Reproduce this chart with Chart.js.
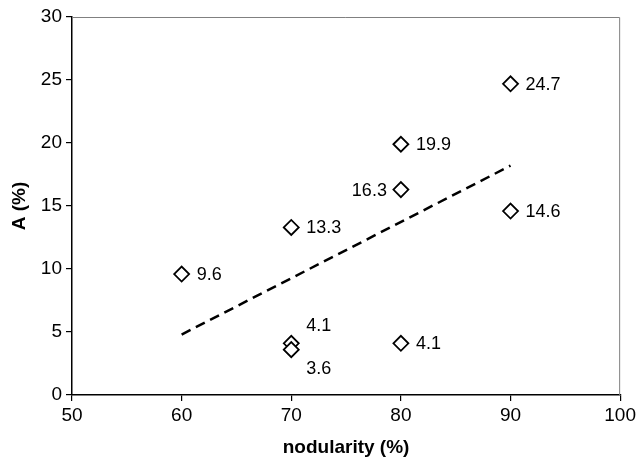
<!DOCTYPE html>
<html>
<head>
<meta charset="utf-8">
<script src="https://cdn.jsdelivr.net/npm/chart.js@4.4.1/dist/chart.umd.min.js"></script>
<style>
  html, body { margin: 0; padding: 0; background: #fff; }
  #wrap { width: 639px; height: 462px; }
</style>
</head>
<body>
<div id="wrap"><canvas id="scatterChart"></canvas></div>
<script>
// nodularity (%) and A (%)
const nodularity = [60, 70, 70, 70, 80, 80, 80, 90, 90];
const aValues = [9.6, 13.3, 4.1, 3.6, 19.9, 16.3, 4.1, 24.7, 14.6];
const pointLabels = ['9.6', '13.3', '4.1', '3.6', '19.9', '16.3', '4.1', '24.7', '14.6'];

// dashed trend line ends
const trendX = [60, 90];
const trendY = [4.8, 18.2];

const xTicks = [50, 60, 70, 80, 90, 100];
const yTicks = [0, 5, 10, 15, 20, 25, 30];

// where each label sits relative to its point
const labelSpots = ['right', 'right', 'upRight', 'downRight', 'right', 'left', 'right', 'right', 'right'];

const fontFamily = '"Liberation Sans", Arial, sans-serif';

const frameBox = {
    id: 'frameBox',
    beforeDatasetsDraw(chart) {
        const { ctx, chartArea: a } = chart;
        ctx.save();
        ctx.strokeStyle = '#808080';
        ctx.lineWidth = 1;
        ctx.beginPath();
        ctx.moveTo(a.left, a.top + 0.5);
        ctx.lineTo(a.right - 0.5, a.top + 0.5);
        ctx.lineTo(a.right - 0.5, a.bottom);
        ctx.stroke();
        ctx.restore();
    }
};

const valueLabels = {
    id: 'valueLabels',
    afterDatasetsDraw(chart) {
        const { ctx } = chart;
        const meta = chart.getDatasetMeta(0);
        ctx.save();
        ctx.fillStyle = '#000';
        ctx.font = '18px ' + fontFamily;
        ctx.textBaseline = 'middle';
        meta.data.forEach((pt, i) => {
            let x = pt.x, y = pt.y;
            const spot = labelSpots[i];
            ctx.textAlign = 'left';
            if (spot === 'right') { x += 15; }
            else if (spot === 'left') { x -= 14; ctx.textAlign = 'right'; }
            else if (spot === 'upRight') { x += 15; y -= 18; }
            else if (spot === 'downRight') { x += 15; y += 18; }
            ctx.fillText(pointLabels[i], x, y + 1);
        });
        ctx.restore();
    }
};

const ctx = document.getElementById('scatterChart').getContext('2d');

new Chart(ctx, {
    type: 'scatter',
    data: {
        datasets: [{
            label: 'A',
            data: nodularity.map((x, i) => ({ x, y: aValues[i] })),
            pointStyle: 'rectRot',
            pointRadius: 7.5,
            pointHoverRadius: 7.5,
            pointBackgroundColor: '#fff',
            pointBorderColor: '#000',
            pointBorderWidth: 1.8,
            order: 1
        }, {
            type: 'line',
            label: 'trend',
            data: trendX.map((x, i) => ({ x, y: trendY[i] })),
            borderColor: '#000',
            borderWidth: 2.5,
            borderDash: [10, 6],
            pointRadius: 0,
            fill: false,
            order: 2
        }]
    },
    options: {
        responsive: true,
        maintainAspectRatio: false,
        animation: false,
        layout: { padding: { top: 17, right: 16, left: 0, bottom: 0 } },
        plugins: {
            legend: { display: false },
            tooltip: { enabled: false }
        },
        scales: {
            x: {
                type: 'linear',
                min: 50,
                max: 100,
                afterFit(scale) { scale.height = 67; },
                afterBuildTicks(scale) { scale.ticks = xTicks.map(v => ({ value: v })); },
                ticks: {
                    color: '#000',
                    padding: 3,
                    font: { family: fontFamily, size: 19 }
                },
                grid: { drawOnChartArea: false, drawTicks: true, tickLength: 6, color: '#000', lineWidth: 1.2 },
                border: { display: true, color: '#000', width: 1.5 },
                title: {
                    display: true,
                    text: 'nodularity (%)',
                    color: '#000',
                    padding: { top: 0, bottom: 3 },
                    font: { family: fontFamily, size: 19, weight: 'bold' }
                }
            },
            y: {
                min: 0,
                max: 30,
                afterFit(scale) { scale.width = 72; },
                afterBuildTicks(scale) { scale.ticks = yTicks.map(v => ({ value: v })); },
                ticks: {
                    color: '#000',
                    padding: 4,
                    font: { family: fontFamily, size: 19 }
                },
                grid: { drawOnChartArea: false, drawTicks: true, tickLength: 6, color: '#000', lineWidth: 1.2 },
                border: { display: true, color: '#000', width: 1.5 },
                title: {
                    display: true,
                    text: 'A (%)',
                    color: '#000',
                    padding: { top: 8, bottom: 0 },
                    font: { family: fontFamily, size: 19, weight: 'bold' }
                }
            }
        }
    },
    plugins: [frameBox, valueLabels]
});
</script>
</body>
</html>
